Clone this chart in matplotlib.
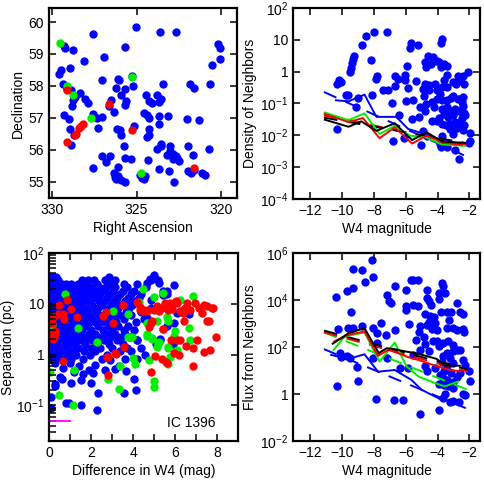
import matplotlib
matplotlib.use("Agg")
import matplotlib.pyplot as plt
import numpy as np
from matplotlib.ticker import FixedLocator, FuncFormatter

plt.rcParams['font.family'] = ['Liberation Sans', 'DejaVu Sans']
plt.rcParams['mathtext.fontset'] = 'custom'
plt.rcParams['mathtext.rm'] = 'Liberation Sans'
plt.rcParams['font.size'] = 10

BLUE = '#0000ff'
RED = '#ff0000'
GREEN = '#00ee00'

# ---- panel 1: sky positions ----
blue_ra = [325.04, 327.59, 323.6, 322.67, 329.27, 329.2, 328.73, 325.67, 320.22, 320.1,
           320.06, 326.9, 328.1, 320.57, 328.92, 329.47, 329.55, 327.02, 326.1, 326.02,
           325.25, 323.44, 321.86, 321.59, 320.65, 329.31, 329.1, 328.88, 326.2, 325.7,
           325.18, 325.94, 324.45, 323.82, 328.35, 328.6, 328.76, 328.06, 327.84, 325.6,
           325.7, 326.5, 326.6, 326.35, 328.82, 323.55, 323.67, 324.24, 324.1, 329.29,
           328.96, 327.55, 327.35, 327.06, 324.59, 324.37, 324.25, 323.7, 323.16, 322.02,
           321.31, 327.25, 328.92, 326.18, 325.98, 325.16, 324.25, 323.67, 325.94, 328.69,
           324.29, 324.41, 328.84, 325.73, 323.55, 323.55, 323.82, 323.04, 321.94, 323.04,
           323.2, 322.88, 322.67, 322.84, 322.6, 322.52, 321.69, 320.75, 327.04, 326.57,
           326.8, 325.67, 325.35, 324.35, 327.55, 326.1, 326.3, 326.1, 326.27, 326.2,
           325.94, 325.67, 324.78, 324.65, 324.55, 324.49, 323.69, 323.06, 322.78, 321.94,
           321.82, 321.61, 321.14, 320.96]
blue_dec = [59.84, 59.63, 59.68, 59.68, 59.26, 59.19, 59.14, 59.22, 59.31, 59.2,
            58.84, 58.89, 58.79, 58.65, 58.56, 58.5, 58.37, 58.17, 58.23, 58.2,
            58.31, 58.06, 58.06, 57.94, 58.06, 58.06, 57.9, 57.86, 57.95, 57.89,
            58.0, 57.7, 57.7, 57.71, 57.78, 57.65, 57.57, 57.58, 57.47, 57.54,
            57.4, 57.55, 57.38, 57.19, 57.38, 57.59, 57.5, 57.52, 57.46, 57.08,
            56.97, 57.12, 57.01, 57.02, 57.15, 57.1, 56.98, 57.05, 57.05, 56.96,
            56.92, 56.69, 56.65, 56.65, 56.61, 56.73, 56.65, 56.8, 56.45, 56.47,
            56.46, 56.4, 56.14, 56.11, 56.18, 56.11, 56.04, 56.11, 56.11, 55.95,
            55.85, 55.88, 55.79, 55.72, 55.73, 55.65, 55.85, 56.02, 55.79, 55.79,
            55.62, 55.73, 55.71, 55.68, 55.42, 55.45, 55.27, 55.19, 55.14, 55.08,
            55.06, 54.99, 55.2, 55.11, 55.07, 55.17, 55.39, 55.33, 55.0, 55.33,
            55.26, 55.38, 55.26, 55.22]
green_ra = [329.53, 329.08, 328.73, 327.7, 325.27, 324.71]
green_dec = [59.34, 57.99, 57.7, 56.99, 58.27, 55.28]
red_ra = [329.1, 326.65, 328.16, 328.25, 328.4, 328.55, 328.61, 329.1, 325.24, 321.63]
red_dec = [57.86, 57.44, 56.8, 56.75, 56.68, 56.48, 56.47, 56.23, 56.61, 55.44]

# ---- panel 2: density of neighbours ----
w4_dens = [-8.0, -7.19, -8.53, -8.76, -9.29, -9.33, -9.39, -9.46, -9.5, -8.16,
           -7.8, -7.89, -10.36, -10.21, -10.07, -6.66, -6.5, -6.71, -7.46, -7.13,
           -8.11, -6.03, -6.03, -5.95, -5.66, -5.74, -5.24, -5.36, -5.87, -5.99,
           -5.57, -5.61, -4.94, -5.11, -5.15, -9.02, -9.14, -9.77, -9.65, -6.9,
           -6.41, -10.36, -6.79, -6.12, -5.05, -4.6, -4.27, -4.75, -4.43, -4.06,
           -3.89, -4.78, -4.3, -3.74, -3.76, -3.8, -3.43, -3.58, -4.78, -4.54,
           -4.86, -4.52, -4.02, -3.72, -4.15, -3.6, -3.39, -3.01, -2.71, -2.84,
           -2.59, -2.38, -2.08, -2.34, -3.85, -4.02, -3.7, -3.43, -3.18, -3.01,
           -3.43, -2.59, -2.48, -4.38, -4.23, -4.75, -4.79, -3.74, -3.43, -3.22,
           -2.9, -2.67, -2.42, -2.34, -2.25, -2.48, -3.01, -3.33, -3.6, -3.89,
           -4.06, -4.38, -3.74, -3.47, -3.22, -2.9, -2.59, -2.34, -3.22, -2.8,
           -2.42, -1.96, -1.96, -2.04, -3.01, -3.74, -3.85, -3.76, -3.43, -2.9,
           -2.63, -4.94, -4.69, -2.69, -2.38]
dens = [18.2, 17.8, 13.2, 7.1, 3.2, 2.5, 1.9, 1.3, 1.0, 2.4,
        0.72, 0.59, 0.42, 0.56, 0.49, 0.72, 0.58, 0.36, 0.26, 0.26,
        0.19, 0.76, 0.54, 1.55, 7.8, 5.6, 7.1, 0.51, 0.30, 0.117,
        0.13, 0.032, 0.28, 0.076, 0.037, 0.15, 0.076, 0.19, 0.19, 0.10,
        0.045, 0.0155, 0.0065, 0.0085, 0.005, 3.1, 2.95, 1.45, 1.8, 2.1,
        2.0, 2.0, 2.2, 11.0, 7.8, 1.4, 1.5, 1.8, 0.4, 0.39,
        0.17, 0.26, 0.26, 0.32, 0.4, 0.56, 0.78, 0.48, 0.74, 0.4,
        0.54, 0.72, 1.0, 0.42, 0.2, 0.14, 0.13, 0.126, 0.145, 0.17,
        0.32, 0.14, 0.11, 0.11, 0.079, 0.098, 0.06, 0.065, 0.076, 0.06,
        0.068, 0.06, 0.081, 0.051, 0.042, 0.035, 0.042, 0.039, 0.047, 0.035,
        0.029, 0.028, 0.023, 0.021, 0.023, 0.026, 0.026, 0.021, 0.016, 0.017,
        0.0148, 0.0115, 0.0068, 0.0059, 0.011, 0.0098, 0.0052, 0.0042, 0.0044, 0.0034,
        0.0018, 0.0138, 0.0098, 0.14, 0.16]

# binned curves (solid) and fits (dashed), density panel
d_blk_x = [-11.1, -9.6, -8.8, -7.85, -6.7, -5.6, -4.7, -3.65, -2.45]
d_blk_y = [0.031, 0.0186, 0.0275, 0.0138, 0.024, 0.0071, 0.0123, 0.0063, 0.0059]
d_red_x = [-11.1, -9.6, -8.7, -7.65, -6.7, -5.6, -4.7, -3.65, -2.45]
d_red_y = [0.047, 0.026, 0.035, 0.0081, 0.0178, 0.0055, 0.0098, 0.0059, 0.005]
d_grn_x = [-11.1, -9.6, -8.6, -7.65, -6.7, -5.75, -4.7, -3.75, -2.45]
d_grn_y = [0.052, 0.030, 0.049, 0.011, 0.020, 0.0098, 0.0085, 0.0052, 0.0047]
d_blu_x = [-10.4, -9.6, -8.6, -7.85, -6.6, -5.85, -4.8, -3.75, -2.5]
d_blu_y = [0.126, 0.117, 0.19, 0.038, 0.038, 0.0158, 0.011, 0.0068, 0.0054]
d_fit_x = [-11.15, -2.2]
d_fit_blu = [0.23, 0.0022]
d_fit_blk = [0.036, 0.0057]
d_fit_red = [0.042, 0.0052]
d_fit_grn = [0.046, 0.0046]

# ---- panel 3: separation vs W4 difference ----
sep_rows = [33, 29, 25, 21.4, 18.2, 15.5, 13.2, 11.2, 9.5, 8.1, 6.9, 5.9, 5.0,
            4.3, 3.6, 3.1, 2.6, 2.2, 1.9, 1.6, 1.38, 1.17, 1.0, 0.83]
dw_rows = [
    [0.02, 0.1, 0.2, 0.32, 2.85],
    [0.0, 0.45, 1.55, 1.85, 2.15, 2.65, 3.15, 4.85, 5.2],
    [0.05, 0.25, 0.6, 0.8, 1.05, 1.4, 1.7, 2.3, 2.95, 3.55, 4.2],
    [0.0, 0.15, 0.4, 0.65, 0.9, 1.3, 1.55, 1.95, 2.4, 2.7, 3.15, 3.7, 4.6],
    [0.1, 0.3, 0.5, 0.75, 1.0, 1.2, 1.45, 1.85, 2.1, 2.55, 3.05, 3.5, 4.05, 5.45],
    [0.0, 0.2, 0.45, 0.65, 0.85, 1.1, 1.3, 1.55, 1.75, 2.2, 2.45, 2.9, 3.4, 3.9, 4.4,
     5.6],
    [0.1, 0.3, 0.55, 0.75, 0.95, 1.2, 1.4, 1.6, 2.05, 2.3, 2.75, 3.25, 3.75, 4.3],
    [0.0, 0.2, 0.4, 0.65, 0.85, 1.05, 1.3, 1.5, 1.7, 1.95, 2.4, 2.6, 3.1, 3.6, 4.1],
    [0.1, 0.3, 0.5, 0.75, 0.95, 1.15, 1.4, 1.8, 2.05, 2.5, 2.95, 3.45, 3.95],
    [0.0, 0.2, 0.45, 0.65, 0.85, 1.05, 1.25, 1.5, 1.7, 2.15, 2.35, 2.85, 3.3, 3.8,
     4.85],
    [0.1, 0.3, 0.55, 0.75, 0.95, 1.2, 1.4, 1.6, 2.0, 2.25, 2.7, 3.15, 3.65, 4.4],
    [0.0, 0.2, 0.4, 0.65, 0.85, 1.05, 1.3, 1.5, 1.7, 1.95, 2.4, 2.85, 3.35, 3.9],
    [0.1, 0.3, 0.55, 0.75, 0.95, 1.2, 1.4, 1.85, 2.05, 2.5, 3.0, 3.55, 4.5],
    [0.0, 0.2, 0.45, 0.65, 0.85, 1.05, 1.3, 1.5, 1.75, 2.2, 2.65, 3.2, 4.15],
    [0.1, 0.3, 0.55, 0.75, 0.95, 1.2, 1.65, 1.85, 2.35, 2.85, 3.3, 3.75],
    [0.0, 0.2, 0.4, 0.65, 0.85, 1.1, 1.3, 1.55, 2.0, 2.55, 3.0, 3.55, 4.05],
    [0.1, 0.3, 0.5, 0.75, 0.95, 1.2, 1.45, 1.9, 2.2, 2.7, 3.15, 3.6],
    [0.0, 0.2, 0.45, 0.65, 0.9, 1.1, 1.35, 1.6, 1.85, 2.4, 2.95, 3.45, 3.85],
    [0.1, 0.3, 0.55, 0.8, 1.0, 1.25, 1.5, 2.05, 2.6, 3.25, 4.2, 5.3],
    [0.0, 0.2, 0.45, 0.7, 0.95, 1.25, 1.7, 2.3, 2.85, 3.5, 5.1, 5.9],
    [0.1, 0.35, 0.6, 0.9, 1.4, 2.0, 2.45, 3.0, 3.7, 4.4],
    [0.0, 0.25, 0.55, 1.1, 1.65, 2.2, 3.4, 3.9],
    [0.15, 0.45, 0.85, 1.3, 1.95, 2.75, 4.55],
    [0.05, 0.35, 0.7, 1.05, 1.6, 2.5, 3.6, 4.2],
]
blue_dw_extra = [0.3, 0.65, 1.0, 1.45, 1.9, 2.2, 2.65, 3.15, 3.35, 3.65, 0.27, 0.51,
                 1.03, 1.54, 1.62, 2.02, 2.1, 2.34, 1.54, 0.83, 0.94, 2.3, 3.58, 4.12,
                 0.08, 0.08, 0.3, 4.05, 4.66, 4.82, 5.0, 5.26, 5.45, 5.61, 5.96, 4.85,
                 4.66, 5.61, 5.93, 6.09, 6.65, 5.29, 5.93, 4.18, 2.9, 1.2, 0.6]
blue_sep_extra = [0.68, 0.55, 0.7, 0.6, 0.5, 0.62, 0.49, 0.52, 0.6, 0.48, 0.26, 0.37,
                  0.28, 0.32, 0.42, 0.28, 0.43, 0.18, 0.1, 0.11, 0.11, 0.08, 0.18, 0.2,
                  0.089, 0.15, 0.24, 0.33, 25.7, 31, 37, 26, 15, 17.8, 24, 12,
                  5.2, 3.6, 4.2, 6.6, 6.2, 2.0, 1.95, 1.95, 0.8, 0.45, 0.33]
red_dw = [0.49, 0.84, 1.03, 0.21, 0.45, 0.68, 0.72, 1.35, 0.13, 0.21, 0.17, 0.65,
          2.72, 3.04, 3.51, 3.58, 3.15, 2.75, 2.83, 4.21, 4.34, 4.53, 4.66, 4.74,
          4.85, 5.0, 5.13, 5.26, 5.42, 5.61, 5.69, 5.93, 6.06, 6.25, 6.41, 6.57,
          6.72, 6.96, 7.12, 7.36, 7.52, 7.76, 5.8, 5.93, 6.25, 6.53, 7.04, 7.6,
          7.39, 7.68, 7.97, 6.85, 5.58, 4.85, 4.5, 4.73, 5.37, 5.53, 5.74, 5.86,
          6.1, 6.37, 6.48, 7.28, 7.8, 7.52, 6.88, 5.43, 6.1, 5.05, 4.89, 3.2,
          5.39, 5.6, 6.2, 0.27, 0.3, 2.58, 2.81, 4.32]
red_sep = [9.6, 12, 8, 5.6, 6.3, 6.3, 5.0, 5.5, 4.2, 2.6, 2.05, 0.74,
           6.8, 4.2, 9.5, 1.4, 1.1, 0.91, 0.39, 10.7, 7.6, 7.4, 7.1, 3.5,
           4.2, 7.6, 8.9, 7.1, 3.2, 10, 7.6, 10.2, 11.2, 7.1, 4.5, 10.5,
           7.6, 10.5, 8.3, 9.5, 9.1, 8.3, 1.95, 1.07, 1.9, 1.45, 1.9, 4.5,
           1.15, 1.26, 2.2, 0.59, 0.71, 0.45, 7.2, 7.6, 8.3, 10.5, 10.5, 7.8,
           10.5, 6.6, 8.3, 6.6, 8.3, 4.6, 1.35, 3.2, 1.9, 0.93, 4.6, 1.02,
           0.81, 0.68, 1.0, 2.9, 2.5, 5.7, 0.9, 8.5]
green_dw = [0.75, 0.13, 1.4, 0.05, 0.49, 1.16, 1.19, 2.27, 3.07, 3.75, 3.75, 3.94,
            3.39, 4.02, 4.1, 3.31, 2.83, 4.47, 4.69, 4.66, 4.74, 4.9, 4.98, 5.02,
            5.0, 5.42, 5.13, 5.61, 5.69, 5.69, 5.74, 5.68, 6.09, 6.25, 6.33, 6.65,
            6.72, 6.85, 5.26, 5.13, 4.28, 6.6, 6.01, 5.93, 4.69, 4.9, 5.69, 5.21]
green_sep = [15.8, 3.9, 3.3, 0.45, 0.16, 0.1, 0.5, 1.8, 7.1, 6.3, 2.2, 2.2,
             0.6, 0.85, 0.66, 0.21, 0.33, 20, 4.2, 2.6, 0.78, 2.1, 0.3, 0.23,
             13.5, 16, 4.5, 5.6, 4.5, 1.35, 0.91, 0.66, 1.26, 12, 7.6, 3.3,
             1.95, 14.5, 1.8, 1.4, 10.7, 7.8, 2.9, 2.3, 2.3, 2.0, 1.4, 1.6]

# ---- panel 4: flux from neighbours ----
w4_flux = [-8.13, -8.76, -8.07, -8.55, -9.31, -9.35, -9.73, -10.4, -9.46, -10.24,
           -9.63, -9.31, -8.74, -7.53, -8.05, -7.84, -7.25, -7.19, -7.08, -6.96,
           -6.66, -6.71, -6.01, -6.01, -6.01, -5.8, -5.7, -5.53, -5.24, -5.57,
           -5.24, -5.11, -5.15, -4.86, -4.69, -4.54, -4.44, -4.69, -4.77, -4.48,
           -4.52, -4.21, -4.14, -4.69, -4.33, -4.06, -3.91, -3.91, -3.72, -3.64,
           -3.53, -3.76, -3.43, -3.26, -3.43, -3.18, -2.8, -2.59, -2.42, -3.01,
           -2.76, -2.42, -2.34, -4.02, -3.68, -3.32, -3.01, -2.76, -2.59, -3.01,
           -3.43, -3.64, -3.89, -4.27, -4.54, -4.79, -5.11, -5.36, -5.53, -6.37,
           -5.84, -7.17, -8.09, -7.84, -10.15, -9.52, -9.1, -9.73, -10.1, -10.36,
           -9.0, -7.9, -6.77, -6.16, -5.09, -3.93, -3.64, -3.51, -3.22, -3.01,
           -2.63, -2.42, -2.25, -1.96, -2.0, -2.25, -2.42, -3.6, -3.85, -3.68,
           -3.43, -3.18, -3.01, -2.8, -2.59, -3.6, -3.32, -3.01, -3.89, -4.14,
           -4.69, -4.79, -3.43, -3.01, -3.74, -3.22]
flux = [5.2e5, 1.95e5, 1.0e5, 6.0e4, 2.1e5, 3.2e4, 2.5e4, 1.35e4, 3.0e3, 575,
        620, 620, 800, 1050, 630, 390, 330, 1.66e4, 9.5e3, 7.4e3,
        3.8e4, 540, 2.75e4, 5.4e3, 3.6e3, 980, 6.9e4, 6.9e4, 6.9e4, 6.0e3,
        5.4e3, 800, 420, 265, 2.75e4, 8.7e3, 6.3e3, 1.2e4, 2.6e3, 2.0e3,
        1.2e3, 1.9e3, 1.05e3, 850, 575, 540, 1.1e4, 2.0e4, 5.2e4, 4.1e4,
        2.0e4, 3.2e3, 3.2e3, 1.45e3, 630, 3.0e3, 7.4e3, 3.0e3, 2.5e3, 630,
        540, 575, 420, 175, 145, 175, 123, 76, 76, 65,
        55, 40, 112, 175, 65, 138, 76, 205, 47, 12.6,
        12.6, 34, 34, 145, 55, 34, 13.8, 43, 37, 2.2,
        3.6, 0.62, 0.56, 0.56, 0.14, 0.2, 0.66, 1.0, 0.44, 0.5,
        0.44, 1.0, 0.9, 3.7, 9.1, 17.4, 28, 9.1, 6.6, 4.7,
        4.0, 7.8, 3.4, 5.2, 7.8, 2.5, 2.2, 1.8, 2.7, 12.6,
        9.1, 14.8, 14.8, 20, 24, 34]

f_blk_x = [-10.6, -9.6, -8.6, -7.7, -7.2, -6.7, -6.05, -5.4, -4.8, -4.05, -3.55, -2.6]
f_blk_y = [138, 390, 630, 55, 89, 81, 65, 55, 43, 31, 16, 16]
f_red_x = [-10.5, -9.6, -8.6, -7.75, -7.1, -6.5, -5.85, -5.2, -4.15, -3.45, -2.6]
f_red_y = [174, 331, 457, 42, 76, 55, 37, 28, 16, 11.5, 9.1]
f_grn_x = [-10.55, -9.85, -8.6, -7.65, -6.7, -5.95, -5.2, -4.15, -3.55, -2.7]
f_grn_y = [74, 275, 417, 24, 155, 14.8, 5.5, 2.9, 2.1, 3.4]
f_blu_x = [-10.7, -9.6, -8.6, -7.75, -6.7, -5.65, -5.0, -4.15, -3.75, -2.8]
f_blu_y = [46, 31, 49, 8.9, 10.5, 4.0, 1.5, 0.78, 0.56, 0.48]
f_fit_x = [-11.15, -2.1]
f_fit_blu = [81, 0.23]
f_fit_grn = [420, 1.5]
f_fit_red = [420, 9]
f_fit_blk = [500, 11]


def pow10(v, pos):
    e = int(round(np.log10(v)))
    if e == 0:
        return '1'
    if e == 1:
        return '10'
    return r'$\mathregular{10^{%d}}$' % e


def style(ax):
    for s in ax.spines.values():
        s.set_linewidth(1.6)
    ax.tick_params(direction='in', length=5, width=1.1, top=True, right=True,
                   labelsize=10, pad=3.5)
    ax.tick_params(which='minor', length=0)


fig = plt.figure(figsize=(4.85, 4.86), dpi=100)
dot = dict(s=36, linewidths=0)

# panel 1
ax1 = fig.add_axes([49 / 485, 1 - 198 / 486, 188 / 485, 190 / 486])
ax1.scatter(blue_ra, blue_dec, color=BLUE, **dot)
ax1.scatter(green_ra, green_dec, color=GREEN, **dot)
ax1.scatter(red_ra, red_dec, color=RED, **dot)
ax1.set_xlim(330.16, 319.08)
ax1.set_ylim(54.49, 60.44)
ax1.set_xticks([330, 325, 320])
ax1.set_yticks([55, 56, 57, 58, 59, 60])
ax1.set_xlabel('Right Ascension', fontsize=10, labelpad=3)
ax1.set_ylabel('Declination', fontsize=10, labelpad=3)
style(ax1)

# panel 2
ax2 = fig.add_axes([293 / 485, 1 - 199 / 486, 187 / 485, 191 / 486])
ax2.scatter(w4_dens, dens, color=BLUE, **dot)
lw = 1.4
ax2.plot(d_fit_x, d_fit_blu, color=BLUE, lw=lw, ls=(0, (7, 5)))
ax2.plot(d_fit_x, d_fit_grn, color=GREEN, lw=lw, ls=(0, (7, 5)))
ax2.plot(d_fit_x, d_fit_red, color=RED, lw=lw, ls=(0, (7, 5)))
ax2.plot(d_fit_x, d_fit_blk, color='black', lw=lw, ls=(0, (7, 5)))
ax2.plot(d_blu_x, d_blu_y, color=BLUE, lw=lw)
ax2.plot(d_grn_x, d_grn_y, color=GREEN, lw=lw)
ax2.plot(d_red_x, d_red_y, color=RED, lw=lw)
ax2.plot(d_blk_x, d_blk_y, color='black', lw=lw)
ax2.set_yscale('log')
ax2.set_xlim(-13.1, -1.33)
ax2.set_ylim(1e-4, 1e2)
ax2.set_xticks([-12, -10, -8, -6, -4, -2])
ax2.yaxis.set_major_locator(FixedLocator([10.0 ** k for k in range(-4, 3)]))
ax2.yaxis.set_major_formatter(FuncFormatter(pow10))
ax2.set_xlabel('W4 magnitude', fontsize=10, labelpad=3)
ax2.set_ylabel('Density of Neighbors', fontsize=10, labelpad=2)
style(ax2)

# panel 3
ax3 = fig.add_axes([49 / 485, 1 - 441 / 486, 189 / 485, 188 / 486])
blue_dw = [x for row in dw_rows for x in row] + blue_dw_extra
blue_sep = [s for s, row in zip(sep_rows, dw_rows) for _ in row] + blue_sep_extra
ax3.scatter(blue_dw, blue_sep, color=BLUE, **dot)
ax3.scatter(green_dw, green_sep, color=GREEN, **dot)
ax3.scatter(red_dw, red_sep, color=RED, **dot)
ax3.plot([0, 1], [0.05, 0.05], color='#ff00ff', lw=1.3)
ax3.text(5.6, 0.046, 'IC 1396', fontsize=10, va='center')
ax3.set_yscale('log')
ax3.set_xlim(0, 9)
ax3.set_ylim(0.02, 100)
ax3.set_xticks([0, 2, 4, 6, 8])
ax3.xaxis.set_minor_locator(FixedLocator([1, 3, 5, 7]))
ax3.yaxis.set_major_locator(FixedLocator([0.1, 1, 10, 100]))
ax3.yaxis.set_major_formatter(FuncFormatter(pow10))
ax3.set_xlabel('Difference in W4 (mag)', fontsize=10, labelpad=3)
ax3.set_ylabel('Separation (pc)', fontsize=10, labelpad=1)
style(ax3)
ax3.tick_params(which='minor', direction='in', length=5, width=1.1, top=True)

# panel 4
ax4 = fig.add_axes([293 / 485, 1 - 441 / 486, 187 / 485, 188 / 486])
ax4.scatter(w4_flux, flux, color=BLUE, **dot)
ax4.plot(f_fit_x, f_fit_blu, color=BLUE, lw=lw, ls=(0, (7, 5)))
ax4.plot(f_fit_x, f_fit_grn, color=GREEN, lw=lw, ls=(0, (7, 5)))
ax4.plot(f_fit_x, f_fit_red, color=RED, lw=lw, ls=(0, (7, 5)))
ax4.plot(f_fit_x, f_fit_blk, color='black', lw=lw, ls=(0, (7, 5)))
ax4.plot(f_blu_x, f_blu_y, color=BLUE, lw=lw)
ax4.plot(f_grn_x, f_grn_y, color=GREEN, lw=lw)
ax4.plot(f_red_x, f_red_y, color=RED, lw=lw)
ax4.plot(f_blk_x, f_blk_y, color='black', lw=lw)
ax4.set_yscale('log')
ax4.set_xlim(-13.1, -1.33)
ax4.set_ylim(1e-2, 1e6)
ax4.set_xticks([-12, -10, -8, -6, -4, -2])
ax4.yaxis.set_major_locator(FixedLocator([10.0 ** k for k in range(-2, 7, 2)]))
ax4.yaxis.set_major_formatter(FuncFormatter(pow10))
ax4.set_xlabel('W4 magnitude', fontsize=10, labelpad=3)
ax4.set_ylabel('Flux from Neighbors', fontsize=10, labelpad=2)
style(ax4)

fig.savefig('out.png', dpi=100)
